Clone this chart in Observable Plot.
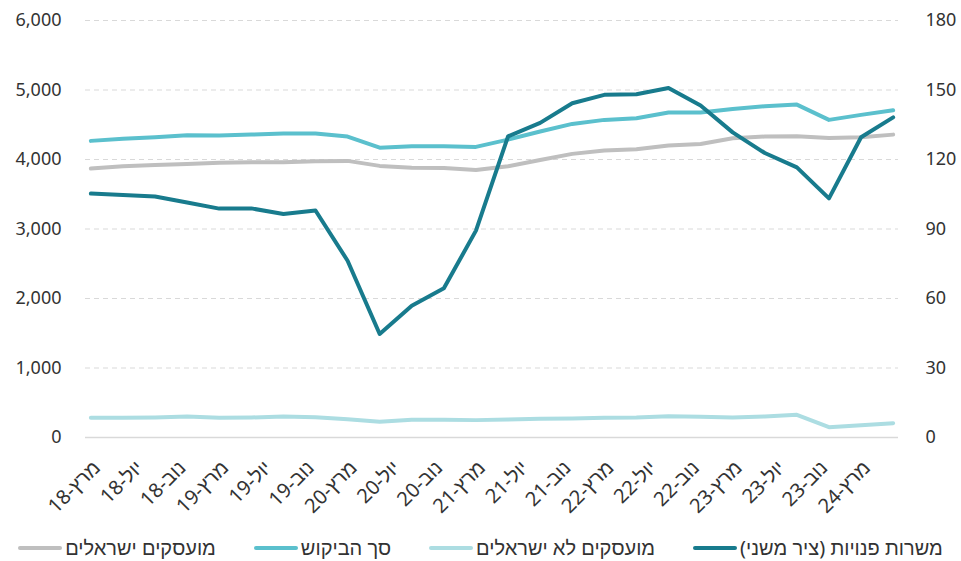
<!DOCTYPE html>
<html><head><meta charset="utf-8">
<script src="https://cdn.jsdelivr.net/npm/d3@7"></script>
<script src="https://cdn.jsdelivr.net/npm/@observablehq/plot@0.6"></script>
<style>
body{margin:0;background:#fff;font-family:"Noto Sans","Liberation Sans",sans-serif;color:#333;}
#wrap{position:relative;width:961px;height:561px;}
#legend{position:absolute;left:0;top:533px;width:961px;height:29px;display:flex;flex-direction:row;direction:rtl;justify-content:center;align-items:center;gap:38px;font-size:20px;color:#333;}
.item{display:flex;align-items:center;direction:rtl;white-space:nowrap;}
.sw{display:inline-block;width:44px;height:4px;border-radius:2px;margin-right:3px;}
</style></head><body>
<div id="wrap"><div id="chart"></div><div id="legend"></div></div>
<script>
const quarters = ["2018-03","2018-06","2018-09","2018-12","2019-03","2019-06","2019-09","2019-12","2020-03","2020-06","2020-09","2020-12","2021-03","2021-06","2021-09","2021-12","2022-03","2022-06","2022-09","2022-12","2023-03","2023-06","2023-09","2023-12","2024-03","2024-06"];
const israeliEmployed = [3869,3902,3922,3936,3955,3960,3960,3974,3980,3908,3883,3879,3850,3902,3994,4081,4128,4147,4200,4224,4306,4330,4334,4311,4320,4358];
const totalDemand = [4268,4297,4320,4349,4344,4358,4373,4373,4330,4170,4190,4190,4181,4286,4402,4512,4570,4594,4675,4675,4728,4766,4790,4570,4642,4708];
const nonIsraeliEmployed = [284,284,288,302,284,288,302,293,264,226,255,255,250,260,269,274,284,288,307,298,288,302,326,149,178,206];
const vacancies = [105.3,104.7,104.0,101.4,98.8,98.9,96.5,98.0,76.3,44.7,56.9,64.4,89.3,130.0,135.8,144.3,147.9,148.2,150.9,143.3,131.7,122.8,116.6,103.2,129.6,138.2];
const tickMonths = ["2018-03","2018-07","2018-11","2019-03","2019-07","2019-11","2020-03","2020-07","2020-11","2021-03","2021-07","2021-11","2022-03","2022-07","2022-11","2023-03","2023-07","2023-11","2024-03"];
const tickLabels = ["מרץ-18","יול-18","נוב-18","מרץ-19","יול-19","נוב-19","מרץ-20","יול-20","נוב-20","מרץ-21","יול-21","נוב-21","מרץ-22","יול-22","נוב-22","מרץ-23","יול-23","נוב-23","מרץ-24"];
const leftTicks = [0,1000,2000,3000,4000,5000,6000];
const rightTicks = [0,30,60,90,120,150,180];
const seriesNames = ["מועסקים ישראלים","סך הביקוש","מועסקים לא ישראלים","משרות פנויות (ציר משני)"];
const seriesColors = ["#bfbfbf","#5bc0cd","#acdde2","#187b8d"];

const idx = m => { const [y, mo] = m.split("-").map(Number); return (y - 2018) * 12 + mo - 3; };
const k = 6000 / 180;
const labelMap = new Map(tickMonths.map((m, i) => [idx(m), tickLabels[i]]));
const rows = quarters.map((q, i) => ({t: idx(q), a: israeliEmployed[i], b: totalDemand[i], c: nonIsraeliEmployed[i], d: vacancies[i] * k}));

const chart = Plot.plot({
  width: 961, height: 530,
  marginLeft: 85, marginRight: 63, marginTop: 20, marginBottom: 93,
  style: {fontSize: "18px", fontFamily: '"Noto Sans","Liberation Sans",sans-serif', color: "#333", background: "#fff"},
  x: {type: "linear", domain: [-0.5, 75.5], axis: null},
  y: {domain: [0, 6000], axis: null},
  marks: [
    Plot.gridY(leftTicks.filter(d => d > 0), {stroke: "#d9d9d9", strokeOpacity: 1, strokeDasharray: "5,4"}),
    Plot.ruleY([0], {stroke: "#d9d9d9", strokeWidth: 1.5}),
    Plot.axisY(leftTicks, {anchor: "left", tickSize: 0, tickPadding: 24, tickFormat: d3.format(","), fill: "#333", label: null}),
    Plot.axisY(rightTicks.map(v => v * k), {anchor: "right", tickSize: 0, tickPadding: 27, tickFormat: d => String(Math.round(d / k)), fill: "#333", label: null}),
    Plot.axisX(tickMonths.map(idx), {tickSize: 0, tickRotate: -45, tickPadding: 27, dx: 6, fontSize: 20, tickFormat: d => labelMap.get(d), fill: "#333", label: null}),
    Plot.lineY(rows, {x: "t", y: "a", stroke: seriesColors[0], strokeWidth: 4, strokeLinecap: "round"}),
    Plot.lineY(rows, {x: "t", y: "b", stroke: seriesColors[1], strokeWidth: 4, strokeLinecap: "round"}),
    Plot.lineY(rows, {x: "t", y: "c", stroke: seriesColors[2], strokeWidth: 4, strokeLinecap: "round"}),
    Plot.lineY(rows, {x: "t", y: "d", stroke: seriesColors[3], strokeWidth: 4, strokeLinecap: "round"})
  ]
});
document.getElementById("chart").appendChild(chart);

const legend = document.getElementById("legend");
[3, 2, 1, 0].forEach(i => {
  const it = document.createElement("div");
  it.className = "item";
  const tx = document.createElement("span");
  tx.textContent = seriesNames[i];
  const sw = document.createElement("span");
  sw.className = "sw";
  sw.style.background = seriesColors[i];
  it.appendChild(tx);
  it.appendChild(sw);
  legend.appendChild(it);
});
</script>
</body></html>
